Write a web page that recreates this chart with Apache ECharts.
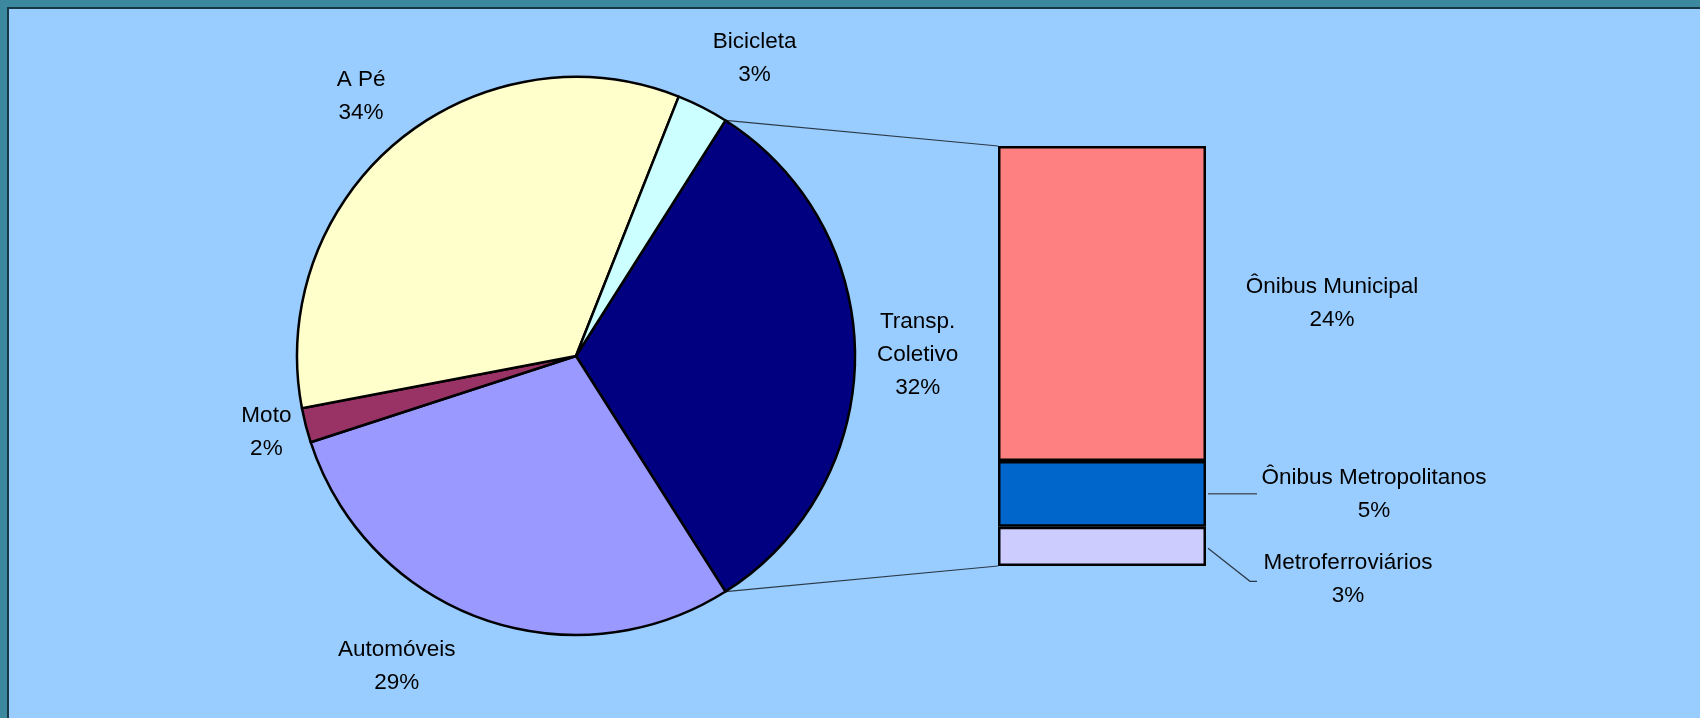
<!DOCTYPE html>
<html>
<head>
<meta charset="utf-8">
<script src="https://cdn.jsdelivr.net/npm/echarts@6/dist/echarts.min.js"></script>
<style>
  html, body { margin: 0; padding: 0; width: 1700px; height: 718px; overflow: hidden; background: #3b889f; }
  .panel {
    position: absolute; left: 7px; top: 7px; right: 0; bottom: 0;
    background: #99ccff;
    border-left: 2px solid #163844;
    border-top: 2px solid #163844;
  }
  #chart { position: absolute; left: 0; top: 0; width: 1700px; height: 718px; }
</style>
</head>
<body>
<div class="panel"></div>
<div id="chart"></div>
<script>
  // pie: share of trips by mode (%), clockwise from the split slice
  const pieNames = ['Transp.\nColetivo', 'Automóveis', 'Moto', 'A Pé', 'Bicicleta']
  const pieValues = [32, 29, 2, 34, 3]
  // bar: breakdown of Transp. Coletivo (%), top to bottom
  const barNames = ['Ônibus Municipal', 'Ônibus Metropolitanos', 'Metroferroviários']
  const barValues = [24, 5, 3]

  const pieColors = ['#000080', '#9999ff', '#993366', '#ffffcc', '#ccffff']
  const barColors = ['#ff8080', '#0066cc', '#ccccff']
  // hand nudges for the pie labels, as in the original
  const pieLabelNudge = [[2, -1], [-66, -4], [5, -4], [0, 0], [26, 2]]
  const barLabelDist = [126, 168, 142]
  const barLabelDy = [0, 0, 33]

  const font = "'Liberation Sans', Arial, sans-serif"
  const pieCenter = [576, 356]
  const pieR = 279
  const gridBox = { left: 998, top: 146, width: 208, height: 420 }

  const total = pieValues.reduce((a, b) => a + b, 0)
  const barTotal = barValues.reduce((a, b) => a + b, 0)
  // split slice sits centred on 3 o'clock
  const startAngle = pieValues[0] / total * 180

  // mid angles, degrees clockwise from 12 o'clock
  let acc = 90 - startAngle
  const midAngles = pieValues.map(v => {
    const mid = acc + v / total * 180
    acc += v / total * 360
    return mid
  })

  const chart = echarts.init(document.getElementById('chart'))

  const barSeries = []
  for (let i = barValues.length - 1; i >= 0; i--) {
    barSeries.push({
      name: barNames[i],
      type: 'bar',
      stack: 'tc',
      barWidth: '100%',
      data: [barValues[i]],
      itemStyle: { color: barColors[i], borderColor: '#000', borderWidth: 2.5 },
      label: {
        show: true,
        position: 'right',
        distance: barLabelDist[i],
        offset: [0, barLabelDy[i]],
        align: 'center',
        color: '#000',
        fontFamily: font,
        fontSize: 22.5,
        lineHeight: 33,
        formatter: p => p.seriesName + '\n' + p.value + '%'
      },
      silent: true
    })
  }

  const option = {
    animation: false,
    backgroundColor: 'transparent',
    grid: gridBox,
    xAxis: { type: 'category', data: ['tc'], show: false },
    yAxis: { type: 'value', min: 0, max: barTotal, show: false },
    series: [
      {
        type: 'pie',
        center: pieCenter,
        radius: pieR,
        startAngle: startAngle,
        clockwise: true,
        silent: true,
        data: pieNames.map((n, i) => ({ name: n, value: pieValues[i], itemStyle: { color: pieColors[i] } })),
        itemStyle: { borderColor: '#000', borderWidth: 2.5 },
        label: {
          show: true,
          position: 'outside',
          color: '#000',
          fontFamily: font,
          fontSize: 22.5,
          lineHeight: 33,
          formatter: p => p.name + '\n' + p.value + '%'
        },
        labelLine: { show: false },
        labelLayout: params => {
          const i = params.dataIndex
          const a = midAngles[i] * Math.PI / 180
          const ux = Math.sin(a), uy = -Math.cos(a)
          const w = params.labelRect.width, h = params.labelRect.height
          const ext = Math.min(
            Math.abs(ux) > 1e-6 ? w / 2 / Math.abs(ux) : Infinity,
            Math.abs(uy) > 1e-6 ? h / 2 / Math.abs(uy) : Infinity
          )
          const d = pieR + 20 + ext
          return {
            x: pieCenter[0] + d * ux + pieLabelNudge[i][0],
            y: pieCenter[1] + d * uy + pieLabelNudge[i][1],
            align: 'center',
            verticalAlign: 'middle'
          }
        }
      },
      ...barSeries
    ]
  }
  chart.setOption(option)

  // connectors and leader lines, from the pie and bar geometry
  const toPx = v => chart.convertToPixel({ gridIndex: 0 }, [0, v])
  const barLeft = gridBox.left
  const barRight = gridBox.left + gridBox.width
  const rimPoint = deg => {
    const a = deg * Math.PI / 180
    return [pieCenter[0] + pieR * Math.sin(a), pieCenter[1] - pieR * Math.cos(a)]
  }
  const splitStart = 90 - startAngle
  const splitEnd = splitStart + pieValues[0] / total * 360
  const lineStyle = { stroke: '#2b3a48', lineWidth: 1.2 }

  const yMetroTop = toPx(barValues[2])[1]
  const yMetroBot = toPx(0)[1]
  const yMetroMid = (yMetroTop + yMetroBot) / 2
  const yMpMid = (toPx(barValues[2])[1] + toPx(barValues[2] + barValues[1])[1]) / 2

  chart.setOption({
    graphic: [
      { type: 'line', silent: true, shape: { x1: rimPoint(splitStart)[0], y1: rimPoint(splitStart)[1], x2: barLeft, y2: toPx(barTotal)[1] }, style: lineStyle },
      { type: 'line', silent: true, shape: { x1: rimPoint(splitEnd)[0], y1: rimPoint(splitEnd)[1], x2: barLeft, y2: toPx(0)[1] }, style: lineStyle },
      { type: 'line', silent: true, shape: { x1: barRight + 2, y1: yMpMid, x2: barRight + 51, y2: yMpMid }, style: { stroke: '#4a5a6a', lineWidth: 1.5 } },
      { type: 'polyline', silent: true, shape: { points: [[barRight + 2, yMetroMid + 2], [barRight + 44, yMetroMid + 35], [barRight + 51, yMetroMid + 35]] }, style: { stroke: '#2b3a48', lineWidth: 1.2, fill: null } }
    ]
  })
</script>
</body>
</html>
